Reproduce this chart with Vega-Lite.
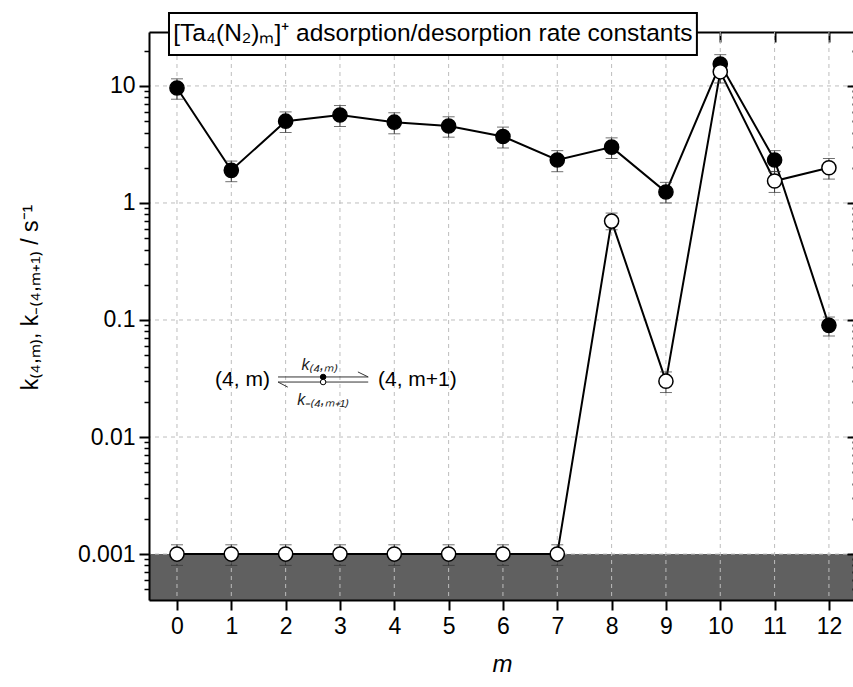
{
  "$schema": "https://vega.github.io/schema/vega-lite/v6.json",
  "width": 706,
  "height": 568,
  "autosize": {"type": "none"},
  "padding": {"left": 149, "top": 32, "right": 0, "bottom": 87},
  "background": "white",
  "config": {
    "font": "Liberation Sans",
    "view": {"stroke": null},
    "axis": {"domainColor": "black", "tickColor": "black", "labelColor": "black", "titleColor": "black", "grid": false}
  },
  "datasets": {
    "main": [
      {"m": 0, "k": 9.6, "lo": 7.7, "hi": 11.5, "s": "k"},
      {"m": 1, "k": 1.9, "lo": 1.52, "hi": 2.28, "s": "k"},
      {"m": 2, "k": 5.0, "lo": 4.0, "hi": 6.0, "s": "k"},
      {"m": 3, "k": 5.65, "lo": 4.5, "hi": 6.8, "s": "k"},
      {"m": 4, "k": 4.9, "lo": 3.9, "hi": 5.9, "s": "k"},
      {"m": 5, "k": 4.55, "lo": 3.65, "hi": 5.45, "s": "k"},
      {"m": 6, "k": 3.7, "lo": 2.95, "hi": 4.45, "s": "k"},
      {"m": 7, "k": 2.33, "lo": 1.85, "hi": 2.8, "s": "k"},
      {"m": 8, "k": 3.0, "lo": 2.4, "hi": 3.6, "s": "k"},
      {"m": 9, "k": 1.24, "lo": 1.0, "hi": 1.5, "s": "k"},
      {"m": 10, "k": 15.4, "lo": 12.3, "hi": 18.5, "s": "k"},
      {"m": 11, "k": 2.33, "lo": 1.86, "hi": 2.8, "s": "k"},
      {"m": 12, "k": 0.09, "lo": 0.073, "hi": 0.106, "s": "k"},
      {"m": 0, "k": 0.001, "lo": 0.0008, "hi": 0.0012, "s": "km"},
      {"m": 1, "k": 0.001, "lo": 0.0008, "hi": 0.0012, "s": "km"},
      {"m": 2, "k": 0.001, "lo": 0.0008, "hi": 0.0012, "s": "km"},
      {"m": 3, "k": 0.001, "lo": 0.0008, "hi": 0.0012, "s": "km"},
      {"m": 4, "k": 0.001, "lo": 0.0008, "hi": 0.0012, "s": "km"},
      {"m": 5, "k": 0.001, "lo": 0.0008, "hi": 0.0012, "s": "km"},
      {"m": 6, "k": 0.001, "lo": 0.0008, "hi": 0.0012, "s": "km"},
      {"m": 7, "k": 0.001, "lo": 0.0008, "hi": 0.0012, "s": "km"},
      {"m": 8, "k": 0.7, "lo": 0.59, "hi": 0.82, "s": "km"},
      {"m": 9, "k": 0.03, "lo": 0.024, "hi": 0.036, "s": "km"},
      {"m": 10, "k": 13.2, "lo": 10.6, "hi": 15.8, "s": "km"},
      {"m": 11, "k": 1.54, "lo": 1.23, "hi": 1.85, "s": "km"},
      {"m": 12, "k": 2.0, "lo": 1.6, "hi": 2.4, "s": "km"}
    ],
    "gx": [{"m": 0}, {"m": 1}, {"m": 2}, {"m": 3}, {"m": 4}, {"m": 5}, {"m": 6}, {"m": 7}, {"m": 8}, {"m": 9}, {"m": 10}, {"m": 11}, {"m": 12}],
    "gy": [{"v": 0.001}, {"v": 0.01}, {"v": 0.1}, {"v": 1}, {"v": 10}]
  },
  "resolve": {"axis": {"x": "independent", "y": "independent"}},
  "layer": [
    {
      "data": {"values": [{"x1": -0.515, "x2": 12.48, "lo": 0.000405, "hi": 0.001}]},
      "mark": {"type": "rect", "color": "#606060", "clip": true},
      "encoding": {
        "x": {
          "field": "x1", "type": "quantitative",
          "scale": {"domain": [-0.515, 12.48], "nice": false, "zero": false},
          "axis": {
            "orient": "bottom", "values": [0, 1, 2, 3, 4, 5, 6, 7, 8, 9, 10, 11, 12], "format": "d",
            "zindex": 1, "domainWidth": 2, "tickSize": 10, "tickWidth": 2,
            "labelFontSize": 23, "labelPadding": 5, "labelFlush": false,
            "title": "m", "titleFontSize": 24, "titleFontStyle": "italic", "titleFontWeight": "normal", "titlePadding": 14
          }
        },
        "x2": {"field": "x2"},
        "y": {
          "field": "lo", "type": "quantitative",
          "scale": {"type": "log", "domain": [0.000405, 28.9], "nice": false},
          "axis": {
            "orient": "left",
            "values": [0.0005, 0.0006, 0.0007, 0.0008, 0.0009, 0.001, 0.002, 0.003, 0.004, 0.005, 0.006, 0.007, 0.008, 0.009, 0.01, 0.02, 0.03, 0.04, 0.05, 0.06, 0.07, 0.08, 0.09, 0.1, 0.2, 0.3, 0.4, 0.5, 0.6, 0.7, 0.8, 0.9, 1, 2, 3, 4, 5, 6, 7, 8, 9, 10, 20],
            "zindex": 1, "domainWidth": 2,
            "labelFontSize": 23, "labelPadding": 4, "labelFlush": false, "labelOverlap": false,
            "labelExpr": "abs(log(datum.value)/LN10 - round(log(datum.value)/LN10)) < 0.01 ? format(datum.value, '~g') : ''",
            "tickSize": {"condition": {"test": "abs(log(datum.value)/LN10 - round(log(datum.value)/LN10)) < 0.01", "value": 10}, "value": 5},
            "tickWidth": {"condition": {"test": "abs(log(datum.value)/LN10 - round(log(datum.value)/LN10)) < 0.01", "value": 2}, "value": 1.5},
            "title": "k₍₄,ₘ₎, k₋₍₄,ₘ₊₁₎  /  s⁻¹", "titleFontSize": 23, "titleFontWeight": "normal", "titlePadding": 35, "titleY": 265
          }
        },
        "y2": {"field": "hi"}
      }
    },
    {
      "data": {"name": "gx"},
      "mark": {"type": "rule", "color": "#bdbdbd", "strokeWidth": 1, "strokeDash": [4, 4]},
      "encoding": {
        "x": {
          "field": "m", "type": "quantitative",
          "axis": {"orient": "top", "values": [0, 1, 2, 3, 4, 5, 6, 7, 8, 9, 10, 11, 12], "labels": false, "tickSize": -10, "tickWidth": 2, "domainWidth": 2, "title": null, "zindex": 0}
        }
      }
    },
    {
      "data": {"name": "gy"},
      "mark": {"type": "rule", "color": "#bdbdbd", "strokeWidth": 1, "strokeDash": [4, 4]},
      "encoding": {
        "y": {
          "field": "v", "type": "quantitative",
          "axis": {
            "orient": "right",
            "values": [0.0005, 0.0006, 0.0007, 0.0008, 0.0009, 0.001, 0.002, 0.003, 0.004, 0.005, 0.006, 0.007, 0.008, 0.009, 0.01, 0.02, 0.03, 0.04, 0.05, 0.06, 0.07, 0.08, 0.09, 0.1, 0.2, 0.3, 0.4, 0.5, 0.6, 0.7, 0.8, 0.9, 1, 2, 3, 4, 5, 6, 7, 8, 9, 10, 20],
            "labels": false, "title": null, "zindex": 1, "domainWidth": 2,
            "tickSize": {"condition": {"test": "abs(log(datum.value)/LN10 - round(log(datum.value)/LN10)) < 0.01", "value": -8}, "value": -3},
            "tickWidth": 2
          }
        }
      }
    },
    {
      "data": {"name": "main"},
      "mark": {"type": "line", "color": "black", "strokeWidth": 2},
      "encoding": {
        "x": {"field": "m", "type": "quantitative", "axis": null},
        "y": {"field": "k", "type": "quantitative", "axis": null},
        "detail": {"field": "s"}
      }
    },
    {
      "data": {"name": "main"},
      "mark": {"type": "errorbar", "ticks": {"size": 12}, "color": "#333333", "thickness": 1},
      "encoding": {
        "x": {"field": "m", "type": "quantitative", "axis": null},
        "y": {"field": "lo", "type": "quantitative", "axis": null},
        "y2": {"field": "hi"}
      }
    },
    {
      "data": {"name": "main"},
      "mark": {"type": "point", "shape": "circle", "filled": true, "size": 200, "stroke": "black", "strokeWidth": 1.5, "opacity": 1},
      "encoding": {
        "x": {"field": "m", "type": "quantitative", "axis": null},
        "y": {"field": "k", "type": "quantitative", "axis": null},
        "fill": {"field": "s", "type": "nominal", "scale": {"domain": ["k", "km"], "range": ["black", "white"]}, "legend": null}
      }
    },
    {
      "data": {"values": [
        {"x1": 1.86, "x2": 3.52, "y1": 0.0326, "y2": 0.0326},
        {"x1": 1.86, "x2": 3.52, "y1": 0.0295, "y2": 0.0295},
        {"x1": 3.52, "x2": 3.33, "y1": 0.0326, "y2": 0.036},
        {"x1": 1.86, "x2": 2.04, "y1": 0.0295, "y2": 0.0267}
      ]},
      "mark": {"type": "rule", "color": "#333333", "strokeWidth": 1},
      "encoding": {
        "x": {"field": "x1", "type": "quantitative", "axis": null},
        "x2": {"field": "x2"},
        "y": {"field": "y1", "type": "quantitative", "axis": null},
        "y2": {"field": "y2"}
      }
    },
    {
      "data": {"values": [
        {"x": 2.69, "y": 0.0326, "f": "a"},
        {"x": 2.69, "y": 0.0295, "f": "b"}
      ]},
      "mark": {"type": "point", "shape": "circle", "filled": true, "size": 30, "stroke": "black", "strokeWidth": 1, "opacity": 1},
      "encoding": {
        "x": {"field": "x", "type": "quantitative", "axis": null},
        "y": {"field": "y", "type": "quantitative", "axis": null},
        "fill": {"field": "f", "type": "nominal", "scale": {"domain": ["a", "b"], "range": ["black", "white"]}, "legend": null}
      }
    },
    {
      "data": {"values": [{"x": 1.71, "y": 0.0307, "t": "(4, m)"}]},
      "mark": {"type": "text", "baseline": "middle", "align": "right", "fontSize": 21, "color": "black"},
      "encoding": {
        "x": {"field": "x", "type": "quantitative", "axis": null},
        "y": {"field": "y", "type": "quantitative", "axis": null},
        "text": {"field": "t"}
      }
    },
    {
      "data": {"values": [{"x": 3.70, "y": 0.0307, "t": "(4, m+1)"}]},
      "mark": {"type": "text", "baseline": "middle", "align": "left", "fontSize": 21, "color": "black"},
      "encoding": {
        "x": {"field": "x", "type": "quantitative", "axis": null},
        "y": {"field": "y", "type": "quantitative", "axis": null},
        "text": {"field": "t"}
      }
    },
    {
      "data": {"values": [
        {"x": 2.63, "y": 0.0412, "t": "k₍₄,ₘ₎"},
        {"x": 2.69, "y": 0.0207, "t": "k₋₍₄,ₘ₊₁₎"}
      ]},
      "mark": {"type": "text", "baseline": "middle", "align": "center", "fontSize": 16, "fontStyle": "italic", "color": "#222222"},
      "encoding": {
        "x": {"field": "x", "type": "quantitative", "axis": null},
        "y": {"field": "y", "type": "quantitative", "axis": null},
        "text": {"field": "t"}
      }
    },
    {
      "data": {"values": [{"x1": -0.147, "x2": 9.57, "y1": 18.4, "y2": 42.1}]},
      "mark": {"type": "rect", "fill": "white", "stroke": "black", "strokeWidth": 2, "clip": false},
      "encoding": {
        "x": {"field": "x1", "type": "quantitative", "axis": null},
        "x2": {"field": "x2"},
        "y": {"field": "y1", "type": "quantitative", "axis": null},
        "y2": {"field": "y2"}
      }
    },
    {
      "data": {"values": [{"x": 4.71, "y": 27.8, "t": "[Ta₄(N₂)ₘ]⁺ adsorption/desorption rate constants"}]},
      "mark": {"type": "text", "baseline": "middle", "align": "center", "fontSize": 24.5, "color": "black", "clip": false},
      "encoding": {
        "x": {"field": "x", "type": "quantitative", "axis": null},
        "y": {"field": "y", "type": "quantitative", "axis": null},
        "text": {"field": "t"}
      }
    }
  ]
}
